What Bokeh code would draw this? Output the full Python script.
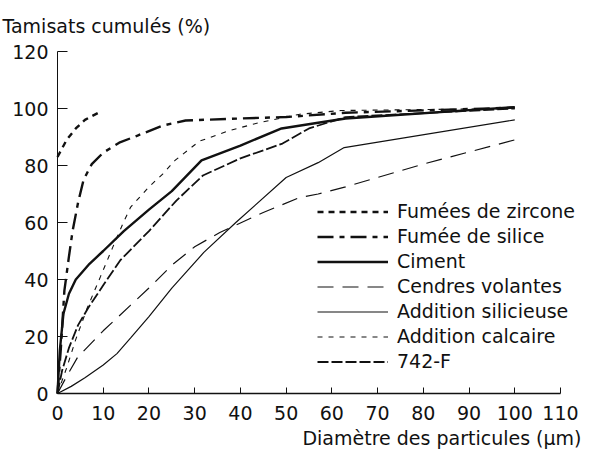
from bokeh.plotting import figure
from bokeh.models import Range1d, Legend, LegendItem, Label, FixedTicker
from bokeh.embed import file_html
from bokeh.resources import INLINE

# ---- data ----
zircone_x = [0, 1, 2, 4, 6, 9.5]
zircone_y = [83, 86, 89, 93, 96, 99]

silice_x = [0, 0.7, 1.5, 2.5, 3.3, 4.5, 5.7, 7.5, 10, 13.5, 17.5, 23, 28, 40, 50, 63, 100]
silice_y = [0, 15, 36, 48, 57, 67, 75, 80.5, 84.5, 88, 90.5, 94, 95.8, 96.5, 97, 98.5, 100.3]

ciment_x = [0, 0.5, 1.3, 2.5, 4, 7, 10, 14.5, 20, 25, 31.5, 40, 49, 57, 63, 100]
ciment_y = [0, 15, 28, 35, 40, 45.5, 50, 57, 64.5, 71, 81.8, 87, 93, 95, 96.5, 100.5]

cendres_x = [0, 2, 4.4, 10, 16, 20, 25, 30, 35.5, 45, 53, 57, 63, 80, 100]
cendres_y = [0, 6, 12.7, 22, 31, 37, 45, 51.5, 56.5, 63.5, 68.8, 70, 72.5, 80.5, 89]

silicieuse_x = [0, 3, 6, 10, 13, 16, 20, 25, 32, 39, 50, 57, 62.7, 100]
silicieuse_y = [0, 2.5, 5.5, 10, 14, 19.5, 27, 37, 49.5, 60, 75.8, 81, 86.3, 96]

calcaire_x = [0, 2, 4, 6.5, 9.4, 12, 14.4, 16, 20, 23, 25.7, 31, 37.7, 44, 53, 62, 100]
calcaire_y = [0, 9, 19, 30, 41, 51, 60, 65.4, 72.5, 77, 81.8, 88.5, 92.3, 95, 98, 99.3, 100]

f742_x = [0, 1, 2.5, 4.5, 6.7, 10, 13.7, 20, 26, 31.8, 40, 49.2, 55, 63, 100]
f742_y = [0, 8, 16, 24, 30, 38, 46.7, 57, 67.7, 76.5, 82.5, 87.7, 93, 97, 100]

x_ticks = [0, 10, 20, 30, 40, 50, 60, 70, 80, 90, 100, 110]
y_ticks = [0, 20, 40, 60, 80, 100, 120]

labels = ["Fumées de zircone", "Fumée de silice", "Ciment", "Cendres volantes",
          "Addition silicieuse", "Addition calcaire", "742-F"]

FONT = "DejaVu Sans"
INK = "#111111"

# layout: data x 0..110 -> px 57..560 ; data y 0..120 -> px 393..51
KX = (560 - 57) / 110.0
KY = (393 - 51) / 120.0
W, H = 591, 458

p = figure(width=W, height=H, output_backend="svg", toolbar_location=None,
           x_range=Range1d(-57 / KX, (W - 57) / KX),
           y_range=Range1d(-(H - 393) / KY, 393 / KY),
           min_border=0)
p.outline_line_color = None
p.xgrid.visible = False
p.ygrid.visible = False
p.background_fill_color = "white"
p.border_fill_color = "white"

# axes, drawn inside the frame at data 0
p.xaxis.fixed_location = 0
p.yaxis.fixed_location = 0
p.xaxis.bounds = (0, 110)
p.yaxis.bounds = (0, 120)
p.xaxis.ticker = FixedTicker(ticks=x_ticks)
p.yaxis.ticker = FixedTicker(ticks=y_ticks)
for ax in (p.xaxis[0], p.yaxis[0]):
    ax.minor_tick_line_color = None
    ax.major_tick_out = 0
    ax.major_label_text_font = FONT
    ax.major_label_text_font_size = "19px"
    ax.major_label_text_color = INK
    ax.axis_line_color = INK
    ax.major_tick_line_color = INK
p.xaxis.major_tick_in = 6
p.yaxis.major_tick_in = 10
p.xaxis.axis_line_width = 1.5
p.yaxis.axis_line_width = 1
p.xaxis.major_label_standoff = 12
p.yaxis.major_label_standoff = 9

# series
r1 = p.line(zircone_x, zircone_y, line_color=INK, line_width=2.4, line_dash="6 5")
r2 = p.line(silice_x, silice_y, line_color=INK, line_width=2.4, line_dash="16 6 5 6")
r3 = p.line(ciment_x, ciment_y, line_color=INK, line_width=2.4)
r4 = p.line(cendres_x, cendres_y, line_color=INK, line_width=1.2, line_dash="16 9")
r5 = p.line(silicieuse_x, silicieuse_y, line_color=INK, line_width=1.2)
r6 = p.line(calcaire_x, calcaire_y, line_color=INK, line_width=1.1, line_dash="5 6")
r7 = p.line(f742_x, f742_y, line_color=INK, line_width=1.8, line_dash="11 3")

legend = Legend(items=[LegendItem(label=l, renderers=[r]) for l, r in
                       zip(labels, [r1, r2, r3, r4, r5, r6, r7])],
                location=(317, H - 372), padding=0, margin=0, spacing=3,
                glyph_width=71, glyph_height=21, label_height=21, label_standoff=9,
                label_text_font=FONT, label_text_font_size="19px", label_text_color=INK,
                border_line_color=None, background_fill_alpha=0)
p.add_layout(legend, "center")

# axis titles
p.add_layout(Label(x=(2 - 57) / KX, y=(393 - 25) / KY, text="Tamisats cumulés (%)",
                   text_font=FONT, text_font_size="19px", text_color=INK,
                   text_baseline="alphabetic", text_align="left"))
p.add_layout(Label(x=(581 - 57) / KX, y=(393 - 437) / KY, text="Diamètre des particules (µm)",
                   text_font=FONT, text_font_size="19px", text_color=INK,
                   text_baseline="alphabetic", text_align="right"))

open("out.html", "w").write(file_html(p, INLINE))
